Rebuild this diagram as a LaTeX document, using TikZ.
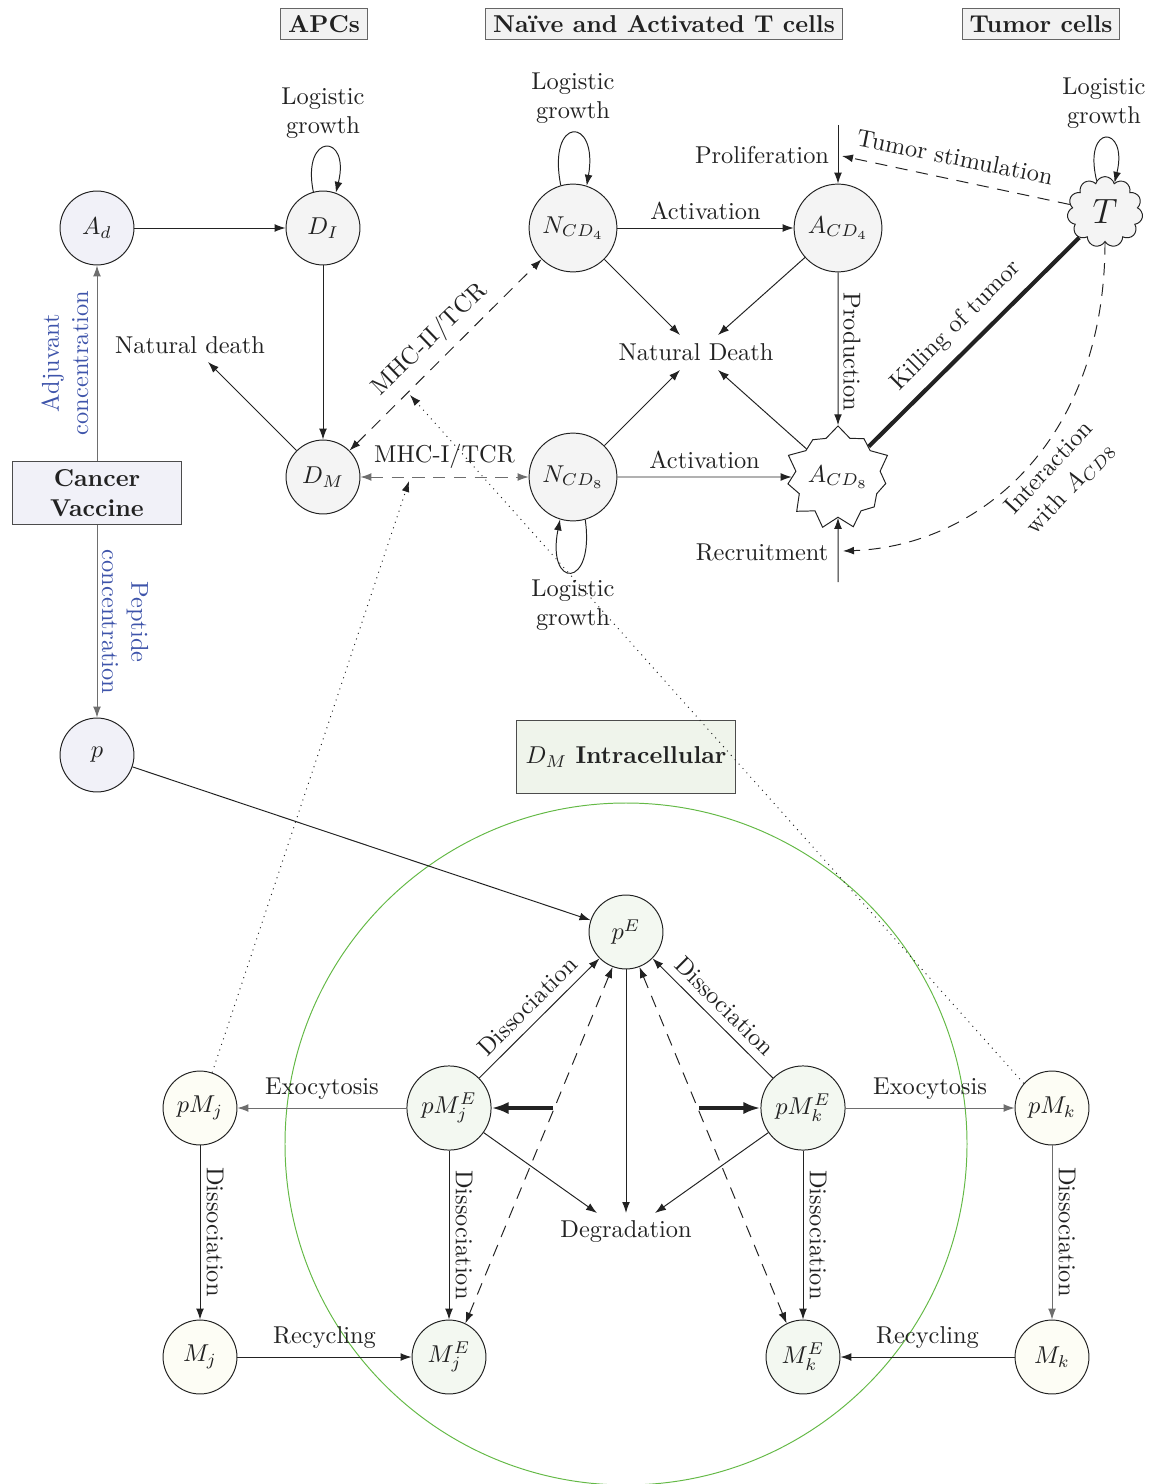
\documentclass[tikz,border=0pt]{standalone}
\usetikzlibrary{arrows.meta,shapes.symbols,shapes.geometric}
\definecolor{lav}{RGB}{241,241,248}
\definecolor{gfill}{RGB}{244,244,244}
\definecolor{grfill}{RGB}{243,248,241}
\definecolor{ivory}{RGB}{253,253,245}
\definecolor{boxgreen}{RGB}{239,244,235}
\definecolor{lblue}{RGB}{62,84,170}
\definecolor{cgreen}{RGB}{100,185,70}
\definecolor{linegray}{RGB}{110,110,110}
\definecolor{ink}{RGB}{34,34,34}
\begin{document}
\pgfmathsetseed{7}
\begin{tikzpicture}[x=0.41pt,y=-0.41pt,
  >={Latex[length=4.5pt,width=3.2pt]},
  every node/.style={text=ink},
  st/.style={circle,draw=ink,minimum size=30.3pt,inner sep=0pt},
  big/.style={st,minimum size=36pt},
  mid/.style={st,minimum size=34.5pt},
  hdr/.style={draw=black!60,fill=gray!10,font=\bfseries,inner sep=3pt},
  arr/.style={->,draw=ink},
  garr/.style={->,draw=linegray},
  dsh/.style={dash pattern=on 5pt off 3.5pt},
  lbl/.style={align=center},
  blbl/.style={align=center,text=lblue},
  thickarr/.style={-{Latex[length=7pt,width=5pt]},line width=1.4pt,draw=ink}
]
\useasboundingbox (0,0) rectangle (1166,1484);

% headers
\node[hdr] (hA) at (324,24) {APCs};
\node[hdr] (hT) at (664,24) {Naïve and Activated T cells};
\node[hdr] (hTu) at (1041,24) {Tumor cells};

% APC part
\node[st,fill=lav] (Ad) at (97,228) {$A_d$};
\node[st,fill=gfill] (DI) at (323,228) {$D_I$};
\node[st,fill=gfill] (DM) at (323,477) {$D_M$};
\node[draw=black!70,fill=lav,font=\bfseries,align=center,minimum width=69pt,minimum height=25.5pt,inner sep=1pt] (CV) at (97,493) {Cancer\\Vaccine};
\node[st,fill=lav] (p) at (97,755) {$p$};

% T cells
\node[big,fill=gfill] (NCD4) at (573,228) {$N_{CD_4}$};
\node[big,fill=gfill] (ACD4) at (838,228) {$A_{CD_4}$};
\node[big,fill=gfill] (NCD8) at (573,477) {$N_{CD_8}$};
\node[starburst,draw=ink,fill=white,starburst points=11,starburst point height=5pt,random starburst=40,minimum width=40pt,minimum height=43pt,inner sep=0pt] (ACD8) at (838,477) {$A_{CD_8}$};
\node[cloud,draw=ink,fill=gfill,cloud puffs=11,aspect=1,minimum width=31pt,minimum height=29pt,inner sep=0pt] (T) at (1105,212) {\Large$T$};

% labels
\node (ND) at (696,352) {Natural Death};
\node (nd) at (190,345) {Natural death};
\node (prol) at (762,155) {Proliferation};
\node (recr) at (762,552) {Recruitment};
\node[lbl] (lgDI) at (323,113) {Logistic\\growth};
\node[lbl] (lgN4) at (573,98) {Logistic\\growth};
\node[lbl] (lgN8) at (573,605) {Logistic\\growth};
\node[lbl] (lgT) at (1104,103) {Logistic\\growth};

% APC edges
\draw[arr] (Ad) -- (DI);
\draw[arr] (DI) -- (DM);
\coordinate (ndt) at (208,362);
\draw[arr] (DM) -- (ndt);
\draw[garr] (CV) -- (Ad);
\node[blbl,rotate=90] (adj) at (65,363) {Adjuvant\\concentration};
\draw[garr] (CV) -- (p);
\node[blbl,rotate=-90] (pep) at (125,622) {Peptide\\concentration};

% loops
\draw[arr] (DI.105) .. controls +(-12,-60) and +(15,-60) .. (DI.70);
\draw[arr] (NCD4.106) .. controls +(-14,-70) and +(12,-70) .. (NCD4.72);
\draw[arr] (NCD8.-74) .. controls +(10,70) and +(-14,70) .. (NCD8.-107);
\draw[arr] (T.105) .. controls +(-14,-58) and +(14,-58) .. (T.72);

% T cell edges
\draw[arr] (NCD4) -- node[above] {Activation} (ACD4);
\draw[arr] (NCD8) -- node[above] {Activation} (ACD8);
\coordinate (ndtl) at (680,335);
\coordinate (ndtr) at (718,335);
\coordinate (ndbl) at (680,370);
\coordinate (ndbr) at (718,370);
\draw[arr] (NCD4) -- (ndtl);
\draw[arr] (ACD4) -- (ndtr);
\draw[arr] (NCD8) -- (ndbl);
\draw[arr] (ACD8) -- (ndbr);
\draw[arr] (ACD4) -- (ACD8);
\node[rotate=-90] (prod) at (852,352) {Production};
\coordinate (pt) at (838,125);
\draw[arr] (pt) -- (ACD4);
\coordinate (pm) at (842,156);
\draw[arr,dsh] (T) -- (pm);
\node[rotate=-11.5] (tst) at (955,157) {Tumor stimulation};
\draw[line width=1.7pt,draw=ink] (ACD8) -- (T);
\node[rotate=45] (kil) at (956,326) {Killing of tumor};
\coordinate (rm) at (843,551);
\draw[arr,dsh] (T.south) .. controls (1105,440) and (980,546) .. (rm);
\node[rotate=47,align=center] (inter) at (1060,478) {Interaction\\with $A_{CD8}$};
\coordinate (rb) at (838,582);
\draw[arr] (rb) -- (ACD8);

% MHC
\draw[<->,dsh,draw=ink] (DM) -- (NCD4);
\node[rotate=44] (mhc2) at (430,340) {MHC-II/TCR};
\draw[<->,dsh,draw=linegray] (DM) -- node[above,text=ink] {MHC-I/TCR} (NCD8);

% intracellular
\node[draw=black!70,fill=boxgreen,minimum width=90pt,minimum height=30pt] (DMI) at (626,757) {$D_M$ \textbf{Intracellular}};
\draw[cgreen] (626,1144) circle[radius=341];
\node[st,fill=grfill] (pE) at (626,932) {$p^E$};
\node[mid,fill=grfill] (pMjE) at (449,1108) {$pM_j^E$};
\node[st,fill=ivory] (pMj) at (200,1108) {$pM_j$};
\node[st,fill=ivory] (Mj) at (200,1357) {$M_j$};
\node[st,fill=grfill] (MjE) at (449,1357) {$M_j^E$};
\node[mid,fill=grfill] (pMkE) at (803,1108) {$pM_k^E$};
\node[st,fill=ivory] (pMk) at (1052,1108) {$pM_k$};
\node[st,fill=ivory] (Mk) at (1052,1357) {$M_k$};
\node[st,fill=grfill] (MkE) at (803,1357) {$M_k^E$};
\node (deg) at (626,1232) {Degradation};

\draw[arr] (p) -- (pE);
\coordinate (degl) at (597,1213);
\coordinate (degt) at (626,1213);
\coordinate (degr) at (655,1213);
\draw[arr] (pE) -- (degt);
\draw[arr] (pMjE) -- (degl);
\draw[arr] (pMkE) -- (degr);
\draw[arr] (pMjE) -- node[above,sloped] {Dissociation} (pE);
\draw[<-,draw=ink] (pE) -- node[above,sloped] {Dissociation} (pMkE);
\draw[garr] (pMjE) -- node[above] {Exocytosis} (pMj);
\draw[garr] (pMkE) -- node[above] {Exocytosis} (pMk);
\draw[arr] (pMj) -- (Mj);
\node[rotate=-90] (dis1) at (215,1232) {Dissociation};
\draw[arr] (pMjE) -- (MjE);
\node[rotate=-90] (dis2) at (464,1235) {Dissociation};
\draw[arr] (pMkE) -- (MkE);
\node[rotate=-90] (dis3) at (818,1235) {Dissociation};
\draw[garr] (pMk) -- (Mk);
\node[rotate=-90] (dis4) at (1067,1232) {Dissociation};
\draw[arr] (Mj) -- node[above] {Recycling} (MjE);
\draw[arr] (Mk) -- node[above] {Recycling} (MkE);

\draw[<->,dsh,draw=ink] (pE.249) -- (MjE.64);
\draw[<->,dsh,draw=ink] (pE.291) -- (MkE.116);
\coordinate (cj) at (553,1108);
\coordinate (ck) at (699,1108);
\draw[thickarr] (cj) -- (pMjE);
\draw[thickarr] (ck) -- (pMkE);

% dotted
\coordinate (dt1) at (409,481);
\coordinate (dt2) at (410,395);
\draw[->,dotted,draw=ink] (pMj.71) -- (dt1);
\draw[->,dotted,draw=ink] (pMk.139) -- (dt2);
\end{tikzpicture}
\end{document}
